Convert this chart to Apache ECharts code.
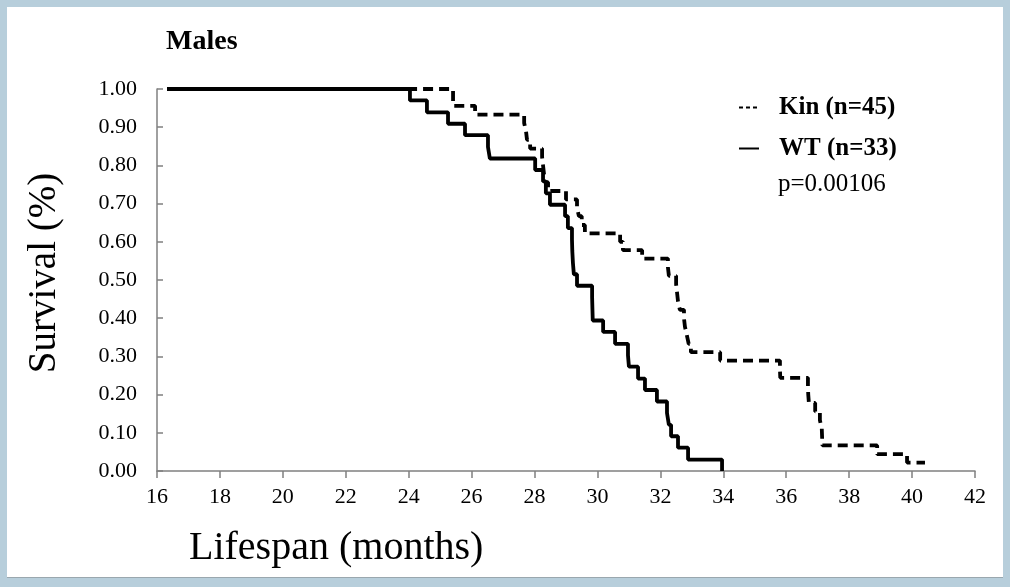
<!DOCTYPE html>
<html>
<head>
<meta charset="utf-8">
<script src="https://cdn.jsdelivr.net/npm/echarts@6/dist/echarts.min.js"></script>
<style>
  html, body { margin: 0; padding: 0; width: 1010px; height: 587px; background: #b7cedb; overflow: hidden; }
  #frame { position: absolute; left: 7px; top: 7px; width: 996px; height: 570px; background: #ffffff; border-bottom: 1px solid #9aa7ae; }
  #chart { position: absolute; left: 0; top: 0; width: 1010px; height: 587px; }
</style>
</head>
<body>
<div id="frame"></div>
<div id="chart"></div>
<script>
// Time (months) and survival fraction for each group (Kaplan-Meier steps)
const kinTimes = [16.32, 25.41, 26.11, 27.67, 27.73, 27.76, 27.86, 28.24, 28.27, 28.30, 28.33, 28.43, 29.00, 29.35, 29.41, 29.50, 29.60, 30.72, 30.81, 31.42, 32.24, 32.27, 32.50, 32.53, 32.56, 32.62, 32.75, 32.78, 32.84, 32.90, 32.97, 33.90, 35.80, 35.81, 36.69, 36.70, 36.72, 36.92, 37.07, 37.13, 37.14, 37.15, 38.89, 39.84, 40.41];
const kinSurv  = [1.000, 0.956, 0.933, 0.911, 0.889, 0.867, 0.844, 0.822, 0.800, 0.778, 0.756, 0.733, 0.711, 0.689, 0.667, 0.644, 0.622, 0.600, 0.578, 0.556, 0.533, 0.511, 0.489, 0.467, 0.444, 0.422, 0.400, 0.378, 0.356, 0.333, 0.311, 0.289, 0.267, 0.244, 0.222, 0.200, 0.178, 0.156, 0.133, 0.111, 0.089, 0.067, 0.044, 0.022, 0.022];

const wtTimes = [16.32, 24.04, 24.58, 25.25, 25.79, 26.52, 26.58, 28.02, 28.27, 28.36, 28.49, 28.97, 29.06, 29.19, 29.20, 29.22, 29.25, 29.35, 29.83, 29.84, 29.85, 30.18, 30.56, 30.97, 31.00, 31.29, 31.51, 31.89, 32.21, 32.27, 32.34, 32.56, 32.88, 33.96];
const wtSurv  = [1.000, 0.970, 0.939, 0.909, 0.879, 0.848, 0.818, 0.788, 0.758, 0.727, 0.697, 0.667, 0.636, 0.606, 0.576, 0.545, 0.515, 0.485, 0.455, 0.424, 0.394, 0.364, 0.333, 0.303, 0.273, 0.242, 0.212, 0.182, 0.152, 0.121, 0.091, 0.061, 0.030, 0.000];

const seriesNames = ['Kin (n=45)', 'WT (n=33)'];
const pValueText = 'p=0.00106';
const chartTitle = 'Males';
const xAxisTitle = 'Lifespan (months)';
const yAxisTitle = 'Survival (%)';

const serif = '"Liberation Serif", "Times New Roman", serif';
const pair = (xs, ys) => xs.map((x, i) => [x, ys[i]]);

const chart = echarts.init(document.getElementById('chart'), null, { renderer: 'canvas' });
chart.setOption({
  backgroundColor: 'transparent',
  animation: false,
  title: {
    text: chartTitle,
    left: 161, top: 23,
    textStyle: { fontFamily: serif, fontSize: 28, fontWeight: 'bold', color: '#000' }
  },
  grid: { left: 157, right: 35, top: 89, bottom: 116, containLabel: false },
  legend: {
    orient: 'vertical',
    left: 733, top: 90,
    itemWidth: 20, itemHeight: 14, itemGap: 16,
    itemStyle: { opacity: 0 },
    data: [
      { name: seriesNames[0], itemStyle: { opacity: 0 }, lineStyle: { type: [4, 3], width: 2, color: '#000' } },
      { name: seriesNames[1], itemStyle: { opacity: 0 }, lineStyle: { type: 'solid', width: 2, color: '#000' } }
    ],
    textStyle: { fontFamily: serif, fontSize: 25, fontWeight: 'bold', color: '#000', padding: [0, 0, 0, 15] }
  },
  xAxis: {
    type: 'value', min: 16, max: 42, interval: 2,
    axisLine: { show: true, lineStyle: { color: '#808080', width: 1.5 } },
    axisTick: { show: true, inside: false, length: 7, lineStyle: { color: '#808080', width: 1.5 } },
    axisLabel: { fontFamily: serif, fontSize: 22, color: '#000', margin: 15 },
    splitLine: { show: false }
  },
  yAxis: {
    type: 'value', min: 0, max: 1, interval: 0.1,
    axisLine: { show: true, lineStyle: { color: '#808080', width: 1.5 } },
    axisTick: { show: true, inside: true, length: 6, lineStyle: { color: '#808080', width: 1.5 } },
    axisLabel: { fontFamily: serif, fontSize: 22, color: '#000', margin: 20, formatter: v => v.toFixed(2) },
    splitLine: { show: false }
  },
  graphic: [
    { type: 'text', x: 45, y: 273, rotation: Math.PI / 2,
      style: { text: yAxisTitle, font: '39px ' + serif, fill: '#000', align: 'center', verticalAlign: 'middle' } },
    { type: 'text', left: 189, top: 528, style: { text: xAxisTitle, font: '40px ' + serif, fill: '#000' } },
    { type: 'text', left: 778, top: 172, style: { text: pValueText, font: '25px ' + serif, fill: '#000' } }
  ],
  series: [
    {
      name: seriesNames[0], type: 'line', step: 'end', symbol: 'none',
      data: pair(kinTimes, kinSurv),
      lineStyle: { color: '#000', width: 3.8, type: [10, 6] },
      itemStyle: { color: '#000' }
    },
    {
      name: seriesNames[1], type: 'line', step: 'end', symbol: 'none',
      data: pair(wtTimes, wtSurv),
      lineStyle: { color: '#000', width: 3.8, type: 'solid' },
      itemStyle: { color: '#000' }
    }
  ]
});
</script>
</body>
</html>
